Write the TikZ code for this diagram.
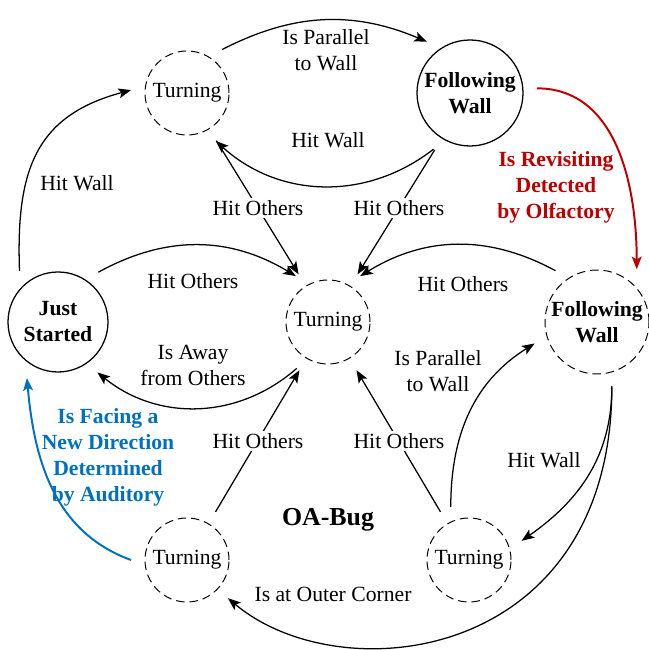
\documentclass[tikz,border=0pt]{standalone}
\usepackage{fontspec}
\setmainfont{Liberation Serif}
\usetikzlibrary{arrows.meta}

\definecolor{olfred}{RGB}{192,0,0}
\definecolor{audblue}{RGB}{0,112,192}
\newcommand{\diagfont}{\fontsize{15.4}{18.5}\selectfont}

\tikzset{
  state/.style={circle,draw,line width=0.9pt,inner sep=0pt,outer sep=0.35cm,font=\diagfont\bfseries},
  turn/.style={circle,draw,line width=0.7pt,dash pattern=on 6pt off 3.5pt,inner sep=0pt,outer sep=0.35cm,minimum size=2.1cm},
  trans/.style={line width=0.9pt,-{Stealth[length=9pt,width=7pt,inset=2pt]}},
  onlabel/.style={fill=white,inner sep=1.5pt}
}

\begin{document}
\begin{tikzpicture}
  [every node/.style={font=\diagfont,align=center}]
    \useasboundingbox (0,0) rectangle (16.225,16.25);

    \node (tl)  [turn] at (4.675,13.925)  {Turning};
    \node (fw1) [state,minimum size=2.65cm] at (11.75,13.925) {Following\\Wall};
    \node (js)  [state,minimum size=2.5cm]  at (1.45,8.2)     {Just\\Started};
    \node (c)   [turn] at (8.2,8.2)       {Turning};
    \node (fw2) [state,dash pattern=on 6pt off 3.5pt,line width=0.7pt,minimum size=2.6cm] at (14.925,8.2) {Following\\Wall};
    \node (bl)  [turn] at (4.675,2.25)    {Turning};
    \node (br)  [turn] at (11.725,2.25)   {Turning};

    \draw[trans] (tl.51) to[bend left=25] (fw1.130);
    \draw[trans] (fw1.237) to[bend left=40] (tl.301);
    \draw[trans] (js.127) to[out=92,in=195,looseness=1.2] (tl.177);
    \draw[trans] (js.51) to[bend left=30] (c.125);
    \draw[trans] (c.236) to[bend left=40] (js.308);
    \draw[trans] (fw2.129) to[bend right=30] (c.55);
    \draw[trans] (br.109) to[out=90,in=212] (fw2.199);
    \draw[trans] (fw2.283) to[out=-90,in=35] (br.20);
    \draw[trans] (fw2.283) .. controls +(0,-6.9) and +(-40:3.7) .. (bl.317);

    \foreach \from in {tl,fw1,bl,br}
      \draw[trans] (\from) -- (c);

    \draw[trans,olfred,line width=1.4pt] (fw1.4) to[out=0,in=90] (fw2.53);
    \draw[trans,audblue,line width=1.4pt] (bl.180) to[out=160,in=-85] (js.241);

    \node (l1)  at (8.15,15.0)   {Is Parallel\\to Wall};
    \node (l2)  at (8.2,12.75)   {Hit Wall};
    \node (l3)  at (1.925,11.675) {Hit Wall};
    \node (l4)  [onlabel] at (6.45,11.05)  {Hit Others};
    \node (l5)  [onlabel] at (9.975,11.05) {Hit Others};
    \node (l6)  at (4.825,9.225) {Hit Others};
    \node (l7)  at (4.825,7.125) {Is Away\\from Others};
    \node (l8)  at (11.575,9.15) {Hit Others};
    \node (l9)  [text=olfred,font=\diagfont\bfseries] at (13.9,11.575) {Is Revisiting\\Detected\\by Olfactory};
    \node (l10) at (10.95,6.975) {Is Parallel\\to Wall};
    \node (l11) [onlabel] at (6.45,5.225)  {Hit Others};
    \node (l12) [onlabel] at (9.975,5.225) {Hit Others};
    \node (l13) at (13.6,4.75)   {Hit Wall};
    \node (l14) at (8.325,1.4)   {Is at Outer Corner};
    \node (l15) [text=audblue,font=\diagfont\bfseries] at (2.7,4.825) {Is Facing a\\New Direction\\Determined\\by Auditory};
    \node (bug) [font=\fontsize{18.4}{22}\selectfont\bfseries] at (8.2,3.25) {OA-Bug};
\end{tikzpicture}
\end{document}
